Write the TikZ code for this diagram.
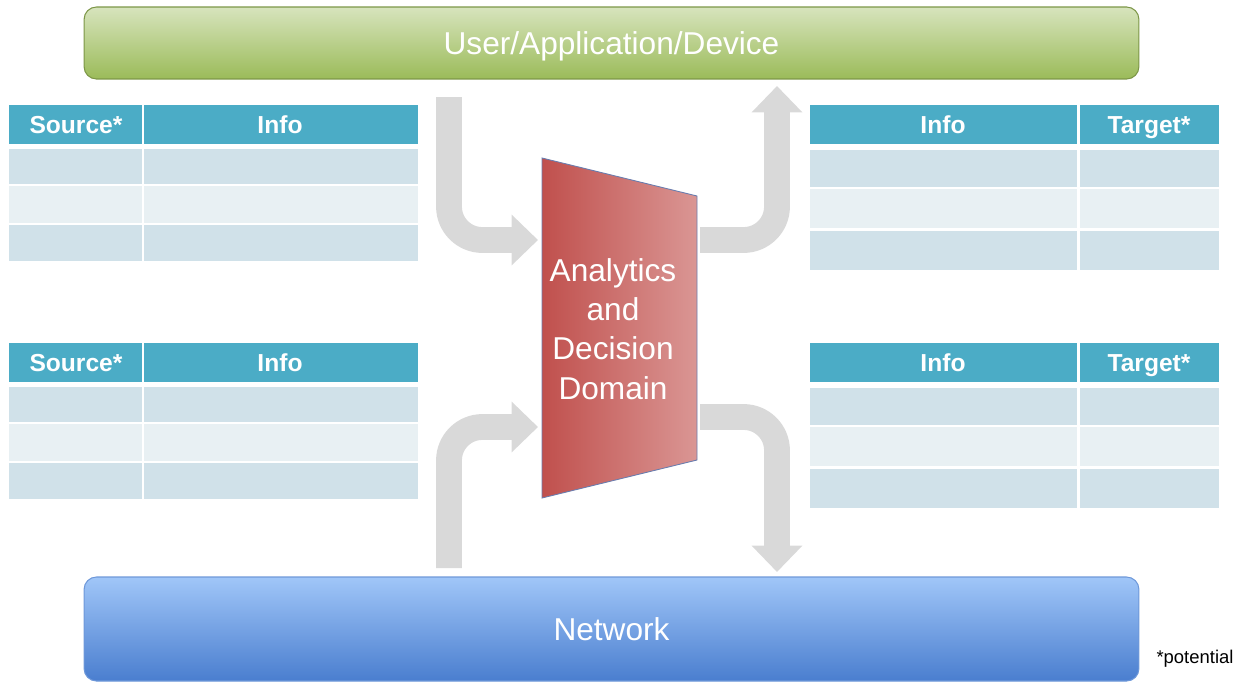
\documentclass[tikz,border=0pt]{standalone}
\usepackage{fontspec}
\setmainfont{Liberation Sans}
\usepackage{tikz}
\usetikzlibrary{arrows.meta}

\definecolor{hdrblue}{RGB}{75,172,198}
\definecolor{rowdark}{RGB}{208,225,233}
\definecolor{rowlight}{RGB}{232,240,243}
\definecolor{flowgray}{RGB}{217,217,217}
\definecolor{usertop}{RGB}{215,228,189}
\definecolor{userbot}{RGB}{155,187,89}
\definecolor{nettop}{RGB}{160,198,248}
\definecolor{netbot}{RGB}{74,126,207}
\definecolor{redleft}{RGB}{192,80,77}
\definecolor{redright}{RGB}{218,150,148}
\definecolor{edgeblue}{RGB}{105,125,175}

\begin{document}
\begin{tikzpicture}[x=0.02cm, y=-0.02cm,
    bar/.style={rounded corners=7pt, minimum width=21.1cm, minimum height=1.44cm,
                line width=0.6pt, text=white, text height=13pt, text depth=0pt,
                font=\fontsize{18}{22}\selectfont},
    hdr/.style={text=white, text height=10pt, text depth=0pt,
                font=\fontsize{14}{16}\selectfont\bfseries},
    flow/.style={flowgray, line width=14.7pt, rounded corners=19pt,
                 -{Triangle[width=28pt,length=15pt]}}]
                \useasboundingbox (0,0) rectangle (1244,683);

                % top and bottom bars
                \node [bar, top color=usertop, bottom color=userbot, draw=userbot!80!black]
                      (user) at (611.5,43) {User/Application/Device};
                \node [bar, top color=nettop, bottom color=netbot, draw=netbot!80!white, minimum height=2.08cm]
                      (net) at (611.5,629) {Network};

                % source tables (left)
                \foreach \y in {0,238} {
                    \fill [hdrblue] (9,{105+\y}) rectangle (142,{144+\y});
                    \fill [hdrblue] (144,{105+\y}) rectangle (418,{144+\y});
                    \foreach \a/\b/\c in {149/184/rowdark, 186/223/rowlight, 225/261/rowdark} {
                        \fill [\c] (9,{\a+\y}) rectangle (142,{\b+\y});
                        \fill [\c] (144,{\a+\y}) rectangle (418,{\b+\y});
                    }
                }
                % target tables (right)
                \foreach \y in {0,238} {
                    \fill [hdrblue] (810,{105+\y}) rectangle (1077,{144+\y});
                    \fill [hdrblue] (1080,{105+\y}) rectangle (1219,{144+\y});
                    \foreach \a/\b/\c in {150/187/rowdark, 189/228/rowlight, 231/270/rowdark} {
                        \fill [\c] (810,{\a+\y}) rectangle (1077,{\b+\y});
                        \fill [\c] (1080,{\a+\y}) rectangle (1219,{\b+\y});
                    }
                }
                \node [hdr] (srcA) at (76,125) {Source*};
                \node [hdr] (infoA) at (280,125) {Info};
                \node [hdr] (srcB) at (76,363) {Source*};
                \node [hdr] (infoB) at (280,363) {Info};
                \node [hdr] (infoC) at (943,125) {Info};
                \node [hdr] (tgtC) at (1149,125) {Target*};
                \node [hdr] (infoD) at (943,363) {Info};
                \node [hdr] (tgtD) at (1149,363) {Target*};

                % decision block
                \shade [left color=redleft, right color=redright, draw=edgeblue, line width=0.5pt]
                      (542,158) -- (697,196) -- (697,460) -- (542,498) -- cycle;
                \node [align=center, text=white, font=\fontsize{18}{22.3}\selectfont]
                      (domain) at (613,329) {Analytics\\and\\Decision\\Domain};

                % flows in and out
                \coordinate (inTop) at (449,97);
                \coordinate (inTopEnd) at (538,240);
                \coordinate (outTop) at (700,240);
                \coordinate (outTopEnd) at (777,86);
                \coordinate (inBot) at (449,568);
                \coordinate (inBotEnd) at (538,427);
                \coordinate (outBot) at (700,417);
                \coordinate (outBotEnd) at (777,572);
                \draw [flow] (inTop) |- (inTopEnd);
                \draw [flow] (outTop) -| (outTopEnd);
                \draw [flow] (inBot) |- (inBotEnd);
                \draw [flow] (outBot) -| (outBotEnd);

                \node [font=\fontsize{10.5}{12}\selectfont] (note) at (1195,659) {*potential};
            \end{tikzpicture}
\end{document}
